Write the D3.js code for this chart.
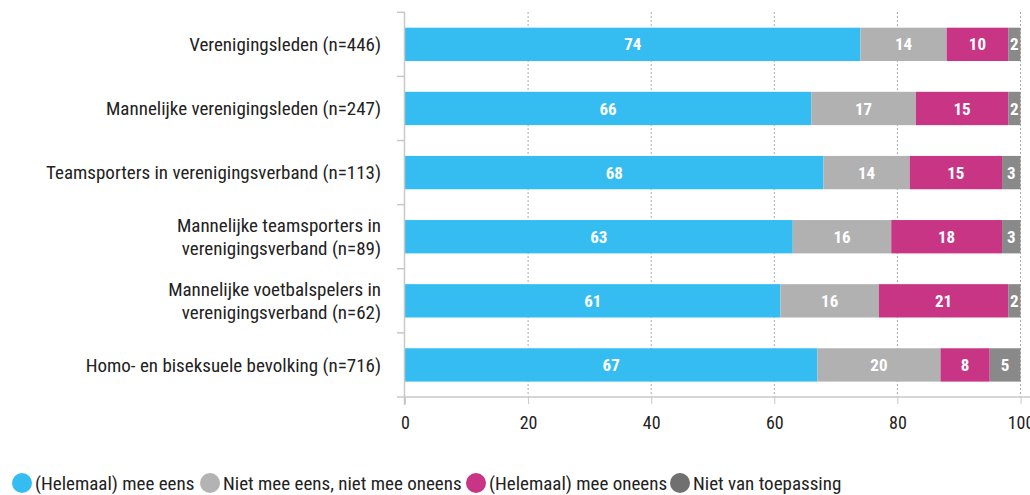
<!DOCTYPE html>
<html>
<head>
<meta charset="utf-8">
<script src="https://cdn.jsdelivr.net/npm/d3@7"></script>
<style>
    body { margin: 0; background: #fff; }
    text { font-family: "Roboto Condensed", "Liberation Sans Narrow", "DejaVu Sans Condensed", sans-serif; }
</style>
</head>
<body>
<script>

var categories = [
    ["Verenigingsleden (n=446)"],
    ["Mannelijke verenigingsleden (n=247)"],
    ["Teamsporters in verenigingsverband (n=113)"],
    ["Mannelijke teamsporters in", "verenigingsverband (n=89)"],
    ["Mannelijke voetbalspelers in", "verenigingsverband (n=62)"],
    ["Homo- en biseksuele bevolking (n=716)"]
];

var seriesNames = ["(Helemaal) mee eens", "Niet mee eens, niet mee oneens", "(Helemaal) mee oneens", "Niet van toepassing"];

var eens      = [74, 66, 68, 63, 61, 67];
var neutraal  = [14, 17, 14, 16, 16, 20];
var oneens    = [10, 15, 15, 18, 21,  8];
var nvt       = [ 2,  2,  3,  3,  2,  5];

var xTicks = [0, 20, 40, 60, 80, 100];

var barColors    = ["#35bdf2", "#b1b1b1", "#c83585", "#898989"];
var legendColors = ["#35bdf2", "#b3b3b3", "#c83585", "#707070"];

var width  = 1030;
var height = 495;

var svg = d3
    .select("body")
    .append("svg")
    .attr("width", width)
    .attr("height", height);

// -------------------------------------------------------------------------- //
//                                 SCALES                                     //
// -------------------------------------------------------------------------- //

var x = d3.scaleLinear()
    .domain([0, 100])
    .range([405, 1020.5]);

var y = d3.scaleBand()
    .domain(d3.range(categories.length))
    .range([12.3, 397])
    .paddingInner(0.48)
    .paddingOuter(0.24);

var rows = categories.map(function(c, i) {
    return { i: i, label: c, values: [eens[i], neutraal[i], oneens[i], nvt[i]] };
});

var stack = d3.stack().keys([0, 1, 2, 3]);
var stacked = stack(rows.map(function(r) { return r.values; }));

// -------------------------------------------------------------------------- //
//                                  GRID                                      //
// -------------------------------------------------------------------------- //

svg.append("g")
    .selectAll("line")
    .data(xTicks.slice(1))
    .enter()
    .append("line")
    .attr("x1", function(d) { return x(d); })
    .attr("x2", function(d) { return x(d); })
    .attr("y1", 12)
    .attr("y2", 397)
    .attr("stroke", "#aaa")
    .attr("stroke-width", 1)
    .attr("stroke-dasharray", "2,2");

// -------------------------------------------------------------------------- //
//                                  BARS                                      //
// -------------------------------------------------------------------------- //

stacked.forEach(function(layer, k) {
    var g = svg.append("g");

    g.selectAll("rect")
        .data(layer)
        .enter()
        .append("rect")
        .attr("x", function(d) { return x(d[0]); })
        .attr("y", function(d, i) { return y(i); })
        .attr("width", function(d) { return x(d[1]) - x(d[0]); })
        .attr("height", y.bandwidth())
        .attr("fill", barColors[k]);

    g.selectAll("text")
        .data(layer)
        .enter()
        .append("text")
        .attr("x", function(d) { return (x(d[0]) + x(d[1])) / 2; })
        .attr("y", function(d, i) { return y(i) + y.bandwidth() / 2; })
        .attr("dy", "0.36em")
        .attr("text-anchor", "middle")
        .style("fill", "white")
        .style("font-weight", "bold")
        .style("font-size", "17px")
        .text(function(d) { return d[1] - d[0]; });
});

// -------------------------------------------------------------------------- //
//                                  AXES                                      //
// -------------------------------------------------------------------------- //

var axisColor = "#c8c8c8";

// left axis with ticks between categories
var yAxis = svg.append("g");
yAxis.append("line")
    .attr("x1", 404.5).attr("x2", 404.5)
    .attr("y1", 12).attr("y2", 405)
    .attr("stroke", axisColor).attr("stroke-width", 1.5);

var boundaries = d3.range(categories.length).map(function(i) { return y(i) - y.step() * y.paddingInner() / 2; });
yAxis.selectAll("line.tick")
    .data(boundaries)
    .enter()
    .append("line")
    .attr("class", "tick")
    .attr("x1", 397).attr("x2", 405)
    .attr("y1", function(d) { return d; })
    .attr("y2", function(d) { return d; })
    .attr("stroke", axisColor).attr("stroke-width", 1.5);

yAxis.selectAll("text")
    .data(rows)
    .enter()
    .append("text")
    .attr("x", 381)
    .attr("y", function(d) { return y(d.i) + y.bandwidth() / 2; })
    .attr("text-anchor", "end")
    .style("font-size", "19px")
    .style("fill", "#222")
    .each(function(d) {
        var t = d3.select(this);
        var n = d.label.length;
        d.label.forEach(function(line, j) {
            t.append("tspan")
                .attr("x", 381)
                .attr("dy", j == 0 ? (0.36 - (n - 1) * 0.6) + "em" : "1.2em")
                .text(line);
        });
    });

// bottom axis
var xAxis = svg.append("g")
    .attr("transform", "translate(0,397)")
    .call(d3.axisBottom(x).tickValues(xTicks).tickSize(7).tickPadding(12));

xAxis.select(".domain").remove();
xAxis.append("line")
    .attr("x1", 397).attr("x2", width)
    .attr("y1", 0).attr("y2", 0)
    .attr("stroke", axisColor).attr("stroke-width", 1.5);
xAxis.selectAll(".tick line").attr("stroke", axisColor);
xAxis.selectAll(".tick text")
    .attr("font-family", null)
    .style("font-size", "18px")
    .style("fill", "#222");

// -------------------------------------------------------------------------- //
//                                 LEGEND                                     //
// -------------------------------------------------------------------------- //

var legendX = [22, 210, 476, 680];

var legend = svg.append("g").attr("transform", "translate(0,483)");

legend.selectAll("circle")
    .data(seriesNames)
    .enter()
    .append("circle")
    .attr("cx", function(d, i) { return legendX[i]; })
    .attr("cy", 0)
    .attr("r", 10)
    .attr("fill", function(d, i) { return legendColors[i]; });

legend.selectAll("text")
    .data(seriesNames)
    .enter()
    .append("text")
    .attr("x", function(d, i) { return legendX[i] + 13; })
    .attr("y", 0)
    .attr("dy", "0.36em")
    .style("font-size", "19px")
    .style("fill", "#222")
    .text(function(d) { return d; });

</script>
</body>
</html>
